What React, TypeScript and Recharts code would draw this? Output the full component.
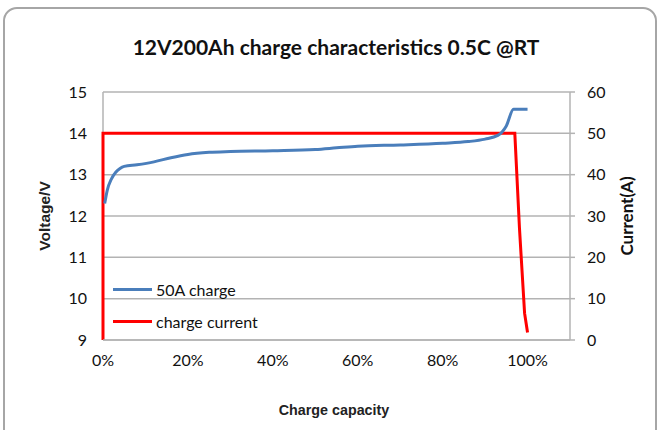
import { LineChart, Line, XAxis, YAxis, CartesianGrid } from "recharts";

// charge capacity (%) -> voltage (V)
const voltageCap = [0.4, 1, 2, 3, 4, 5, 8, 12, 16, 20, 25, 30, 40, 50, 55, 60, 70, 80, 86, 90, 93, 95, 96.7, 100];
const voltageVal = [12.3, 12.62, 12.9, 13.06, 13.15, 13.2, 13.24, 13.31, 13.41, 13.49, 13.54, 13.56, 13.58, 13.61, 13.65, 13.69, 13.72, 13.76, 13.8, 13.86, 13.95, 14.18, 14.58, 14.58];

// charge capacity (%) -> current (A)
const currentCap = [0, 0, 97, 98.1, 99.3, 100];
const currentVal = [0, 50, 50, 27, 6.5, 1.8];

const xTicks = [0, 20, 40, 60, 80, 100];
const voltTicks = [9, 10, 11, 12, 13, 14, 15];
const ampTicks = [0, 10, 20, 30, 40, 50, 60];

const legendItems = ["50A charge", "charge current"];

const voltageData = voltageCap.map((cap, i) => ({ cap, v: voltageVal[i] }));
const currentData = currentCap.map((cap, i) => ({ cap, a: currentVal[i] }));

const FONT = "Lato, 'Open Sans', sans-serif";
const BLUE = "#4a7ebb";
const RED = "#ff0000";
const GRID = "#b3b3b3";
const legendColors = [BLUE, RED];

export default function App() {
  return (
    <div style={{ position: "fixed", left: 0, top: 0, width: 659, height: 430, background: "#fff", overflow: "hidden" }}>
      <div
        style={{
          position: "absolute",
          left: 3,
          top: 7,
          width: 650,
          height: 440,
          border: "2px solid #a6a6a6",
          borderRadius: 14,
        }}
      />
      <LineChart width={659} height={430} margin={{ top: 92, right: 49, bottom: 60, left: 63 }}>
        {/* left axis line drawn as a grid line so the red current sits on top of it */}
        <CartesianGrid
          yAxisId="v"
          stroke={GRID}
          strokeWidth={1.5}
          verticalCoordinatesGenerator={({ offset }) => [offset.left]}
        />
        <XAxis
          dataKey="cap"
          type="number"
          domain={[0, 110]}
          ticks={xTicks}
          tickFormatter={(t) => `${t}%`}
          tickLine={false}
          tickSize={0}
          tickMargin={15}
          axisLine={{ stroke: GRID, strokeWidth: 1.5 }}
          tick={{ fontSize: 16, fill: "#111", fontFamily: FONT }}
          height={30}
          allowDuplicatedCategory={false}
        />
        <YAxis
          yAxisId="v"
          domain={[9, 15]}
          ticks={voltTicks}
          width={40}
          tickLine={false}
          tickSize={0}
          tickMargin={16}
          axisLine={false}
          tick={{ fontSize: 16, fill: "#111", fontFamily: FONT }}
        />
        <YAxis
          yAxisId="a"
          orientation="right"
          domain={[0, 60]}
          ticks={ampTicks}
          width={40}
          tickSize={5}
          tickMargin={12}
          tickLine={{ stroke: GRID, strokeWidth: 1.5 }}
          axisLine={{ stroke: GRID, strokeWidth: 1.5 }}
          tick={{ fontSize: 16, fill: "#111", fontFamily: FONT, textAnchor: "start" }}
        />
        <Line
          yAxisId="a"
          data={currentData}
          dataKey="a"
          type="linear"
          stroke={RED}
          strokeWidth={3}
          dot={false}
          isAnimationActive={false}
        />
        <Line
          yAxisId="v"
          data={voltageData}
          dataKey="v"
          type="monotone"
          stroke={BLUE}
          strokeWidth={3}
          dot={false}
          isAnimationActive={false}
        />
      </LineChart>
      <div style={{ position: "absolute", left: 113, top: 273, fontFamily: FONT, fontSize: 16, color: "#111" }}>
        {legendItems.map((t, i) => (
          <div key={t} style={{ display: "flex", alignItems: "center", height: 32 }}>
            <div style={{ width: 39, height: 3, background: legendColors[i], marginRight: 4 }} />
            <span>{t}</span>
          </div>
        ))}
      </div>
      <div
        style={{
          position: "absolute",
          left: 336,
          top: 46,
          transform: "translate(-50%, -50%)",
          fontFamily: FONT,
          fontWeight: 700,
          fontSize: 21,
          color: "#111",
          whiteSpace: "nowrap",
        }}
      >
        12V200Ah charge characteristics 0.5C @RT
      </div>
      <div
        style={{
          position: "absolute",
          left: 45,
          top: 216,
          transform: "translate(-50%, -50%) rotate(-90deg)",
          fontFamily: "'Liberation Sans', Arial, sans-serif",
          fontWeight: 700,
          fontSize: 15.5,
          color: "#222",
          whiteSpace: "nowrap",
        }}
      >
        Voltage/V
      </div>
      <div
        style={{
          position: "absolute",
          left: 626,
          top: 216,
          transform: "translate(-50%, -50%) rotate(-90deg)",
          fontFamily: FONT,
          fontWeight: 700,
          fontSize: 17,
          color: "#111",
          whiteSpace: "nowrap",
        }}
      >
        Current(A)
      </div>
      <div
        style={{
          position: "absolute",
          left: 334,
          top: 410,
          transform: "translate(-50%, -50%)",
          fontFamily: "'Liberation Sans', Arial, sans-serif",
          fontWeight: 700,
          fontSize: 14.3,
          color: "#222",
          whiteSpace: "nowrap",
        }}
      >
        Charge capacity
      </div>
    </div>
  );
}
